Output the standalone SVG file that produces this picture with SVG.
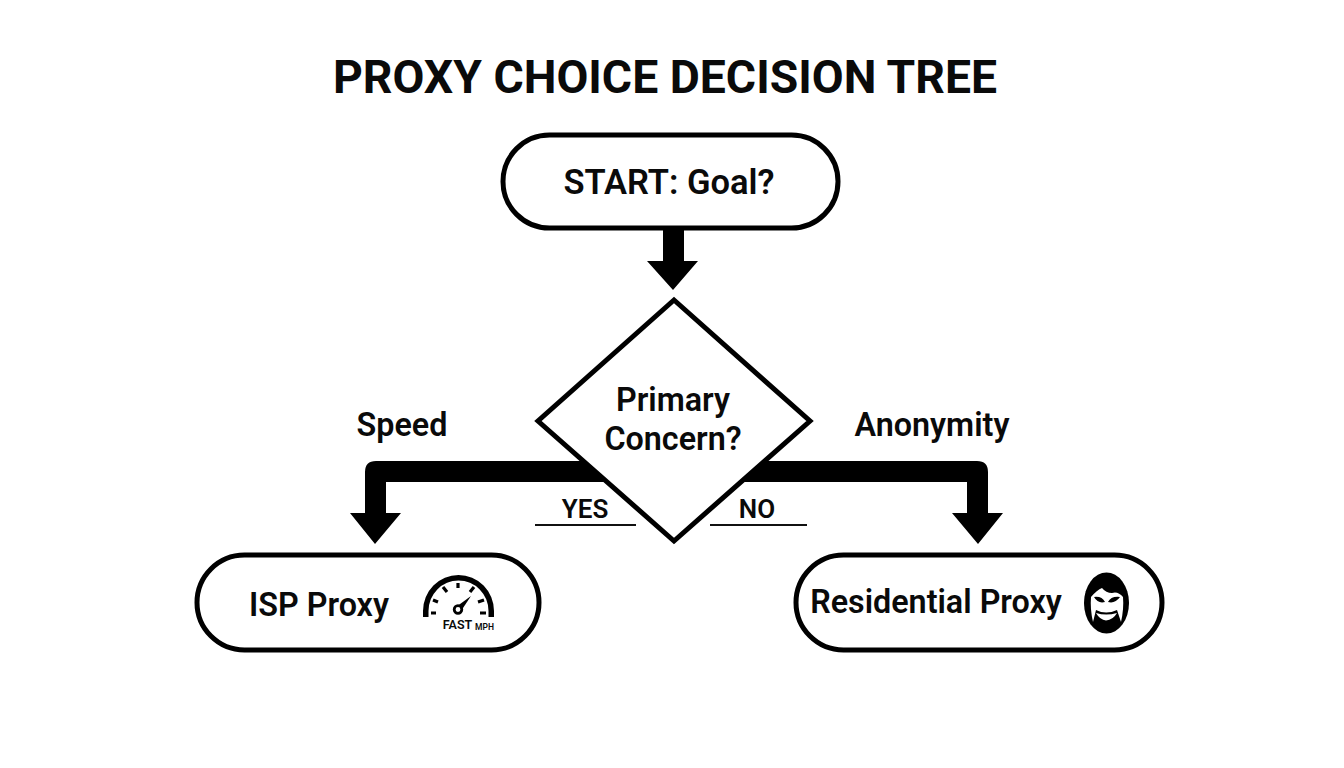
<svg xmlns="http://www.w3.org/2000/svg" width="1344" height="768" viewBox="0 0 1344 768">
<style>
text{font-family:Roboto,"Liberation Sans",sans-serif;font-weight:600;fill:#0a0a0a;text-anchor:middle}
.n{fill:#fff;stroke:#000;stroke-width:5}
.l{font-size:32.300px}
.e{font-size:34.500px}
.u{stroke:#111;stroke-width:2;fill:none}
.tick{stroke:#000;stroke-width:3.200;fill:none}
</style>
<rect width="1344" height="768" fill="#fff"/>
<text id="title" x="665" y="93" font-size="46.300" style="font-weight:700">PROXY CHOICE DECISION TREE</text>
<g id="connectors">
<path d="M663 229H684V261H698L673 290L647 261H663Z"/>
<path d="M583 461H376Q365 461 365 472V513H350L375 544L401 513H386V482H607Z"/>
<path d="M765 461H977Q988 461 988 472V513H1003L978 544L952 513H967V482H741Z"/>
<path class="u" d="M535 525H636M710 525H807"/>
</g>
<g id="start"><rect class="n" x="503" y="135" width="335" height="93" rx="46.500"/><text class="e" x="669" y="194">START: Goal?</text></g>
<g id="decision"><path class="n" stroke-linejoin="miter" style="fill:none" d="M674 300L810 421L674 541L538 421Z"/><text class="l" x="673" y="411">Primary</text><text class="l" x="673" y="450">Concern?</text></g>
<g id="labels"><text class="l" x="402" y="436">Speed</text><text class="l" x="932" y="436">Anonymity</text><text x="585" y="518" font-size="26">YES</text><text x="757" y="518" font-size="26">NO</text></g>
<g id="isp"><rect class="n" x="197" y="555" width="342" height="95" rx="47.500"/><text class="l" x="319" y="616">ISP Proxy</text>
<path d="M423 617V611A35.500 36 0 0 1 494 611V617H488.500V611A30 30.500 0 0 0 428.500 611V617Z" fill="#000"/>
<path class="tick" d="M431 613H436M433 600L438 602M443 587L447 592M458 583V588M474 587L470 592M484 600L478 602M486 613H480"/>
<path d="M456 607L471 596L461 611Z"/><circle cx="458" cy="609.500" r="3.800" fill="#fff" stroke="#000" stroke-width="2.800"/>
<text x="457.500" y="629" font-size="12.500">FAST</text><text x="484.500" y="630" font-size="8.500">MPH</text></g>
<g id="residential"><rect class="n" x="796" y="555" width="366" height="95" rx="47.500"/><text class="l" x="936" y="613">Residential Proxy</text>
<ellipse cx="1106.500" cy="603" rx="22.500" ry="30.500" fill="#000"/>
<path d="M1091 597Q1097 590 1102 588Q1106 593 1112 593Q1118 591 1123 597Q1124 609 1121 622L1117 610Q1106 615 1096 610L1093 622Q1090 609 1091 597Z" fill="#fff"/>
<path d="M1094 597Q1102 596 1105 602Q1098 604 1094 597ZM1120 597Q1111 596 1108 602Q1115 604 1120 597Z" fill="#000"/>
<path d="M1096 613Q1106 616 1117 613Q1113 620 1106 620.500Q1100 620 1096 613Z" fill="#fff"/></g>
</svg>
